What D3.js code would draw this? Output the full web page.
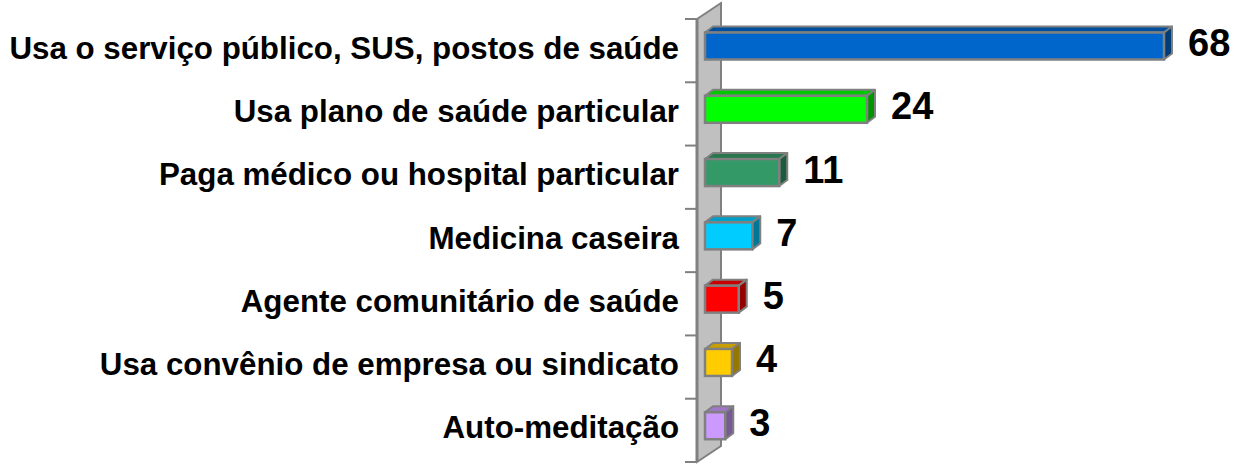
<!DOCTYPE html>
<html>
<head>
<meta charset="utf-8">
<script src="https://cdn.jsdelivr.net/npm/d3@7"></script>
<style>
  html, body { margin: 0; padding: 0; background: #fff; }
  svg { display: block; }
</style>
</head>
<body>
<div id="chart"></div>
<script>
// ── Data ──
const categories = [
  "Usa o serviço público, SUS, postos de saúde",
  "Usa plano de saúde particular",
  "Paga médico ou hospital particular",
  "Medicina caseira",
  "Agente comunitário de saúde",
  "Usa convênio de empresa ou sindicato",
  "Auto-meditação",
];
const values = [68, 24, 11, 7, 5, 4, 3];

// front face colour per bar (top/side are darker shades)
const fronts = ["#0066cc", "#00ff00", "#339966", "#00ccff", "#ff0000", "#ffcc00", "#cc99ff"];

const W = 1240, H = 469;
const DX = 8, DY = -6;          // bar depth
const WDX = 24, WDY = -16;      // wall depth
const EDGE = "#808080";
const FONT = "'Liberation Sans', Arial, sans-serif";

const svg = d3.select("#chart").append("svg")
  .attr("width", W).attr("height", H);

const y = d3.scaleBand().domain(categories).range([19, 462]).padding(0);
const x = d3.scaleLinear().domain([0, d3.max(values)]).range([705, 1164]);

const wallX = 697;
const [yTop, yBot] = y.range();

// ── Wall ──
svg.append("path")
  .attr("d", `M${wallX},${yTop} L${wallX + WDX},${yTop + WDY} L${wallX + WDX},${yBot + WDY} L${wallX},${yBot} Z`)
  .attr("fill", "#c0c0c0")
  .attr("stroke", EDGE)
  .attr("stroke-width", 2);

svg.append("line")
  .attr("x1", wallX).attr("x2", wallX)
  .attr("y1", yTop).attr("y2", yBot)
  .attr("stroke", EDGE).attr("stroke-width", 3);

// ── Ticks at band boundaries ──
const bounds = categories.map((c) => y(c)).concat([yBot]);
svg.append("g").selectAll("line").data(bounds).join("line")
  .attr("x1", wallX - 12).attr("x2", wallX)
  .attr("y1", (d) => d).attr("y2", (d) => d)
  .attr("stroke", EDGE).attr("stroke-width", 2);

// ── Bars ──
const shade = (c, k) => d3.color(c).darker(k).formatHex();

const bars = svg.append("g").selectAll("g")
  .data(categories.map((c, i) => ({ c, v: values[i], col: fronts[i] })))
  .join("g");

const geo = (d) => {
  const x0 = x(0), x1 = x(d.v);
  const t = y(d.c) + 13.5, b = t + 27;
  return { x0, x1, t, b };
};

// top
bars.append("path")
  .attr("d", (d) => {
    const { x0, x1, t } = geo(d);
    return `M${x0},${t} L${x0 + DX},${t + DY} L${x1 + DX},${t + DY} L${x1},${t} Z`;
  })
  .attr("fill", (d) => shade(d.col, 0.7))
  .attr("stroke", EDGE).attr("stroke-width", 2).attr("stroke-linejoin", "round");

// side
bars.append("path")
  .attr("d", (d) => {
    const { x1, t, b } = geo(d);
    return `M${x1},${t} L${x1 + DX},${t + DY} L${x1 + DX},${b + DY} L${x1},${b} Z`;
  })
  .attr("fill", (d) => shade(d.col, 1.5))
  .attr("stroke", EDGE).attr("stroke-width", 2).attr("stroke-linejoin", "round");

// front
bars.append("rect")
  .attr("x", (d) => geo(d).x0)
  .attr("y", (d) => geo(d).t)
  .attr("width", (d) => geo(d).x1 - geo(d).x0)
  .attr("height", 27)
  .attr("fill", (d) => d.col)
  .attr("stroke", EDGE).attr("stroke-width", 2.5);

// value labels
bars.append("text")
  .attr("x", (d) => x(d.v) + DX + 16)
  .attr("y", (d) => y(d.c) + 37)
  .attr("font-family", FONT)
  .attr("font-weight", "bold")
  .attr("font-size", "38px")
  .attr("fill", "#000")
  .text((d) => d.v);

// ── Category labels ──
svg.append("g").selectAll("text").data(categories).join("text")
  .attr("x", 679)
  .attr("y", (d) => y(d) + y.bandwidth() / 2 + 8)
  .attr("text-anchor", "end")
  .attr("font-family", FONT)
  .attr("font-weight", "bold")
  .attr("font-size", "31.3px")
  .attr("fill", "#000")
  .text((d) => d);
</script>
</body>
</html>
